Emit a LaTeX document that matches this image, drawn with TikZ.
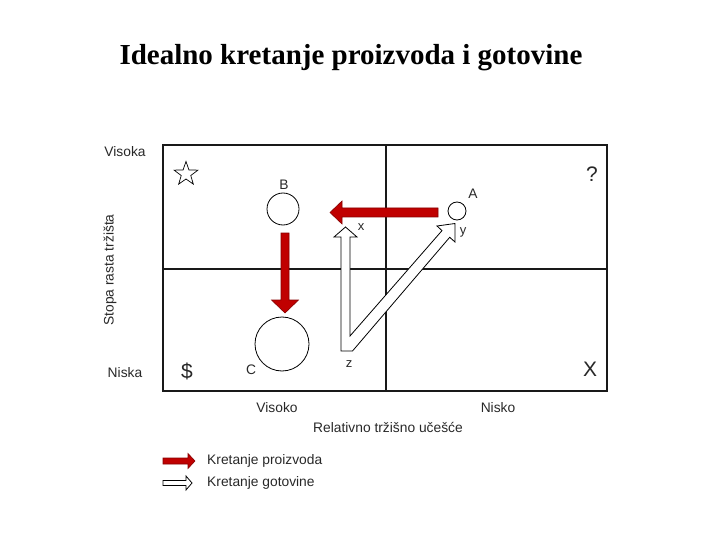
\documentclass[tikz,border=0pt]{standalone}
\usepackage{fontspec}
\setmainfont{Liberation Sans}
\newfontfamily\titlefont{Liberation Serif}
\usetikzlibrary{shapes.geometric}
\definecolor{arrowred}{RGB}{192,0,0}
\definecolor{arrowrededge}{RGB}{135,0,0}
\definecolor{txt}{RGB}{40,40,40}
\begin{document}
\begin{tikzpicture}[x=1pt,y=-1pt,
  lbl/.style={inner sep=0pt,text=txt,font=\fontsize{13.8}{16}\selectfont},
  small/.style={inner sep=0pt,text=txt,font=\fontsize{13}{15}\selectfont},
  big/.style={inner sep=0pt,text=txt,font=\fontsize{21}{24}\selectfont},
  gridline/.style={line width=2.8pt,black!90},
  circ/.style={circle,draw=black,line width=0.8pt,inner sep=0pt},
  redarrow/.style={fill=arrowred,draw=arrowrededge,line width=0.6pt,line join=miter},
  whitearrow/.style={fill=white,draw=black,line width=0.8pt,line join=miter}]
\useasboundingbox (0,0) rectangle (720,540);

% title
\node[inner sep=0pt,font=\titlefont\bfseries\fontsize{29}{32}\selectfont] (title) at (351,58) {Idealno kretanje proizvoda i gotovine};

% grid
\draw[gridline] (163,145) rectangle (607,391);
\draw[gridline] (386,145) -- (386,391);
\draw[gridline] (163,269) -- (607,269);

% axis labels
\node[lbl] (visoka) at (125,152) {Visoka};
\node[lbl] (niska) at (125,373) {Niska};
\node[lbl,rotate=90] (stopa) at (110,270) {Stopa rasta tržišta};
\node[lbl] (visoko) at (277,408) {Visoko};
\node[lbl] (nisko) at (498,408) {Nisko};
\node[lbl] (rel) at (388,427) {Relativno tržišno učešće};

% quadrant symbols
\node[star,star points=5,star point ratio=2.5,draw=black,line width=0.7pt,minimum size=25pt,inner sep=0pt] (star) at (186,174) {};
\node[big] (q) at (592,174) {?};
\node[big] (dollar) at (187,371) {\$};
\node[big] (xx) at (590,369) {X};

% circles
\node[circ,minimum size=32pt] (B) at (283,209) {};
\node[circ,minimum size=54pt] (C) at (282,344) {};
\node[circ,minimum size=18pt] (A) at (457,211) {};
\node[lbl] (Blbl) at (284,185) {B};
\node[lbl] (Albl) at (473,194) {A};
\node[lbl] (Clbl) at (251,370) {C};
\node[small] (xl) at (361,227) {x};
\node[small] (yl) at (463,232) {y};
\node[small] (zl) at (349,364) {z};

% red arrows (product movement)
\draw[redarrow] (438,208) -- (342,208) -- (342,201) -- (330,212.5) -- (342,224) -- (342,217) -- (438,217) -- cycle;
\draw[redarrow] (281,233) -- (289,233) -- (289,300) -- (298.5,300) -- (285,313) -- (271.5,300) -- (281,300) -- cycle;

% white arrows (cash movement)
\draw[whitearrow] (345.5,227) -- (357,237) -- (350,237) -- (350,336) -- (442,230.6) -- (437,226) -- (455,223.5) -- (455,242) -- (449.7,237.3) -- (352.5,351) -- (341,351) -- (341,237) -- (334,237) -- cycle;

% legend
\draw[redarrow] (163,458) -- (188,458) -- (188,453.5) -- (195,461) -- (188,468.5) -- (188,464) -- (163,464) -- cycle;
\draw[whitearrow] (163,480.5) -- (186,480.5) -- (186,476) -- (192,483) -- (186,490) -- (186,485.5) -- (163,485.5) -- cycle;
\node[lbl,anchor=west] (leg1) at (207,461) {Kretanje proizvoda};
\node[lbl,anchor=west] (leg2) at (207,483) {Kretanje gotovine};
\end{tikzpicture}
\end{document}
